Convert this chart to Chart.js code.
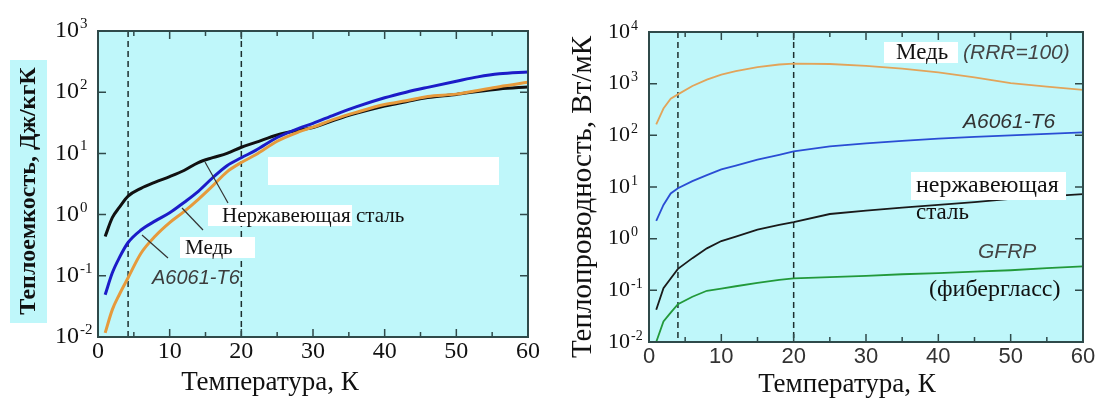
<!DOCTYPE html>
<html>
<head>
<meta charset="utf-8">
<script src="https://cdn.jsdelivr.net/npm/chart.js@4.4.1/dist/chart.umd.min.js"></script>
<style>
  html, body { margin: 0; padding: 0; background: #fff; }
  #wrap { position: relative; width: 1096px; height: 399px; }
  .panel { position: absolute; top: 0; width: 548px; height: 399px; }
</style>
</head>
<body>
<div id="wrap">
  <div class="panel" style="left:0"><canvas id="cpChart" width="548" height="399"></canvas></div>
  <div class="panel" style="left:548px"><canvas id="kChart" width="548" height="399"></canvas></div>
</div>
<script>
// heat capacity, J/kgK (left)
const tempCp = [1, 2, 3, 4.2, 6, 8, 10, 12, 14, 16, 18, 20, 22, 25, 28, 30, 33, 36, 40, 43, 46, 50, 53, 56, 60];
const cpSteel = [0.44, 0.89, 1.32, 2.0, 2.69, 3.39, 4.17, 5.25, 7.08, 8.51, 10.0, 12.6, 15.1, 20.0, 24.0, 26.5, 35.0, 45.0, 59.5, 70.0, 82.0, 92.0, 103, 113, 122];
const cpAl = [0.049, 0.112, 0.2, 0.35, 0.56, 0.79, 1.07, 1.58, 2.4, 4.0, 6.3, 8.5, 11.2, 18.2, 25.7, 31.0, 42.7, 57.5, 81, 100, 120, 151, 178, 200, 214];
const cpCu = [0.0117, 0.028, 0.05, 0.093, 0.234, 0.447, 0.74, 1.12, 1.78, 2.95, 5.0, 7.1, 9.5, 15.8, 22.4, 26.9, 36.3, 46.8, 63, 72.4, 85, 93, 107, 123, 145];

// thermal conductivity, W/mK (right)
const tempK = [1, 2, 3, 4, 6, 8, 10, 12, 15, 18, 20, 25, 30, 35, 40, 45, 50, 55, 60];
const kCu = [163, 330, 510, 620, 900, 1200, 1500, 1750, 2100, 2350, 2450, 2400, 2200, 1950, 1650, 1330, 1020, 880, 760];
const kAl = [2.2, 4.5, 7.5, 9.5, 13, 17, 22, 26, 34, 42, 49, 61, 70, 78, 86, 93, 100, 107, 114];
const kSteel = [0.042, 0.11, 0.17, 0.26, 0.42, 0.65, 0.9, 1.1, 1.5, 1.85, 2.1, 3.0, 3.5, 4.0, 4.5, 5.1, 5.9, 6.6, 7.3];
const kGfrp = [0.01, 0.025, 0.037, 0.054, 0.075, 0.098, 0.108, 0.12, 0.14, 0.16, 0.17, 0.18, 0.19, 0.205, 0.215, 0.23, 0.245, 0.27, 0.29];

// tick labels
const xTickVals = [0, 10, 20, 30, 40, 50, 60];
const cpDecades = [-2, -1, 0, 1, 2, 3];
const kDecades = [-2, -1, 0, 1, 2, 3, 4];

const SERIF = '"Liberation Serif", "Times New Roman", serif';
const SANS = '"Liberation Sans", Arial, sans-serif';
const CYAN = '#bff7fa';
const AXIS = '#2f4a4a';

const pts = (xs, ys) => xs.map((x, i) => ({x: x, y: ys[i]}));

function makeFrame(cfg) {
    return {
        id: 'frame',
        beforeDatasetsDraw(chart) {
            const {ctx, chartArea: a, scales: {x}} = chart;
            ctx.save();
            ctx.fillStyle = CYAN;
            ctx.fillRect(a.left, a.top, a.width, a.height);
            ctx.strokeStyle = '#1c2e2e';
            ctx.lineWidth = 1.5;
            ctx.setLineDash([6, 4]);
            cfg.dashed.forEach(t => {
                const px = x.getPixelForValue(t);
                ctx.beginPath();
                ctx.moveTo(px, a.top);
                ctx.lineTo(px, a.bottom);
                ctx.stroke();
            });
            ctx.restore();
        },
        afterDraw(chart) {
            const {ctx, chartArea: a, scales: {x, y}} = chart;
            ctx.save();

            // white boxes and leader lines of the notes
            ctx.fillStyle = '#fff';
            cfg.blanks.forEach(r => ctx.fillRect(r[0], r[1], r[2], r[3]));
            ctx.strokeStyle = '#333';
            ctx.lineWidth = 1.2;
            cfg.lines.forEach(l => {
                ctx.beginPath();
                ctx.moveTo(l[0], l[1]);
                ctx.lineTo(l[2], l[3]);
                ctx.stroke();
            });

            // frame + inward ticks
            ctx.strokeStyle = AXIS;
            ctx.lineWidth = 2;
            ctx.strokeRect(a.left, a.top, a.width, a.height);
            ctx.lineWidth = 1.5;
            ctx.beginPath();
            xTickVals.forEach((t, i) => {
                let px = x.getPixelForValue(t);
                ctx.moveTo(px, a.bottom); ctx.lineTo(px, a.bottom - 8);
                ctx.moveTo(px, a.top); ctx.lineTo(px, a.top + 8);
                if (i < xTickVals.length - 1) {
                    px = x.getPixelForValue(t + 5);
                    ctx.moveTo(px, a.bottom); ctx.lineTo(px, a.bottom - 5);
                    ctx.moveTo(px, a.top); ctx.lineTo(px, a.top + 5);
                }
            });
            cfg.decades.forEach(e => {
                const py = y.getPixelForValue(Math.pow(10, e));
                ctx.moveTo(a.left, py); ctx.lineTo(a.left + 8, py);
                ctx.moveTo(a.right, py); ctx.lineTo(a.right - 8, py);
            });
            ctx.stroke();

            // tick labels
            ctx.fillStyle = cfg.xColor || '#111';
            ctx.textBaseline = 'middle';
            ctx.textAlign = 'center';
            ctx.font = cfg.xFont;
            xTickVals.forEach(t => ctx.fillText(String(t), x.getPixelForValue(t), cfg.xLabelY));
            ctx.fillStyle = '#111';
            ctx.textAlign = 'left';
            cfg.decades.forEach(e => {
                const py = y.getPixelForValue(Math.pow(10, e));
                const x0 = a.left - cfg.yLabelInset;
                ctx.font = cfg.yFont;
                ctx.fillText('10', x0, py);
                const w = ctx.measureText('10').width;
                ctx.font = cfg.expFont;
                ctx.fillText(String(e), x0 + w + 1, py - cfg.expRise);
            });

            // axis titles
            ctx.textAlign = 'center';
            ctx.font = cfg.xTitle.font;
            ctx.fillText(cfg.xTitle.text, cfg.xTitle.x, cfg.xTitle.y);
            const yt = cfg.yTitle;
            if (yt.bg) {
                ctx.fillStyle = CYAN;
                ctx.fillRect(yt.bg[0], yt.bg[1], yt.bg[2], yt.bg[3]);
            }
            ctx.fillStyle = '#111';
            ctx.translate(yt.x, yt.y);
            ctx.rotate(-Math.PI / 2);
            ctx.font = yt.font;
            ctx.fillText(yt.text, 0, 0);
            ctx.setTransform(1, 0, 0, 1, 0, 0);

            // note texts
            ctx.textAlign = 'left';
            cfg.notes.forEach(n => {
                ctx.font = n.f;
                ctx.fillStyle = n.c || '#111';
                ctx.fillText(n.t, n.x, n.y);
            });
            ctx.restore();
        }
    };
}

function baseOptions(pad, yMax) {
    return {
        responsive: false,
        animation: false,
        layout: {padding: pad},
        elements: {point: {radius: 0}},
        plugins: {legend: {display: false}, tooltip: {enabled: false}},
        scales: {
            x: {type: 'linear', min: 0, max: 60, display: false},
            y: {type: 'logarithmic', min: 0.01, max: yMax, display: false}
        }
    };
}

new Chart(document.getElementById('cpChart'), {
    type: 'line',
    data: {
        datasets: [
            {label: 'Медь', data: pts(tempCp, cpCu), borderColor: '#e69a3c', borderWidth: 3, cubicInterpolationMode: 'monotone'},
            {label: 'A6061-T6', data: pts(tempCp, cpAl), borderColor: '#1c1cc8', borderWidth: 3, cubicInterpolationMode: 'monotone'},
            {label: 'Нержавеющая сталь', data: pts(tempCp, cpSteel), borderColor: '#111', borderWidth: 3, cubicInterpolationMode: 'monotone'}
        ]
    },
    options: baseOptions({left: 98, right: 20, top: 31, bottom: 62}, 1000),
    plugins: [makeFrame({
        dashed: [4.2, 20],
        decades: cpDecades,
        xFont: '24px ' + SERIF,
        xLabelY: 352,
        yFont: '24px ' + SERIF,
        expFont: '15px ' + SERIF,
        yLabelInset: 43,
        expRise: 7,
        xTitle: {text: 'Температура, К', font: '27px ' + SERIF, x: 270, y: 383},
        yTitle: {text: 'Теплоемкость, Дж/кгК', font: 'bold 24px ' + SERIF, x: 29, y: 191, bg: [10, 60, 37, 263]},
        blanks: [[268, 157, 231, 28], [208, 205, 144, 21], [180, 237, 75, 21]],
        lines: [[205, 162, 228, 203], [182, 208, 203, 230], [142, 235, 168, 258]],
        notes: [
            {t: 'Нержавеющая сталь', f: '21px ' + SERIF, x: 222, y: 216},
            {t: 'Медь', f: '21px ' + SERIF, x: 185, y: 248},
            {t: 'A6061-T6', f: 'italic 20px ' + SANS, x: 152, y: 278, c: '#3c3c3c'}
        ]
    })]
});

new Chart(document.getElementById('kChart'), {
    type: 'line',
    data: {
        datasets: [
            {label: 'Медь (RRR=100)', data: pts(tempK, kCu), borderColor: '#e2a45a', borderWidth: 1.8},
            {label: 'A6061-T6', data: pts(tempK, kAl), borderColor: '#2a4dd4', borderWidth: 1.8},
            {label: 'нержавеющая сталь', data: pts(tempK, kSteel), borderColor: '#1a1a1a', borderWidth: 1.8},
            {label: 'GFRP', data: pts(tempK, kGfrp), borderColor: '#22993a', borderWidth: 1.8}
        ]
    },
    options: baseOptions({left: 101, right: 13, top: 32, bottom: 57}, 10000),
    plugins: [makeFrame({
        dashed: [4, 20],
        decades: kDecades,
        xFont: '22px ' + SANS,
        xColor: '#333',
        xLabelY: 357,
        yFont: '22px ' + SERIF,
        expFont: '14px ' + SERIF,
        yLabelInset: 41,
        expRise: 6,
        xTitle: {text: 'Температура, К', font: '27px ' + SERIF, x: 299, y: 385},
        yTitle: {text: 'Теплопроводность, Вт/мК', font: '29px ' + SERIF, x: 35, y: 197},
        blanks: [[336, 42, 74, 21], [363, 172, 155, 28]],
        lines: [],
        notes: [
            {t: 'Медь', f: '23px ' + SERIF, x: 348, y: 53},
            {t: '(RRR=100)', f: 'italic 21px ' + SANS, x: 415, y: 53, c: '#444'},
            {t: 'A6061-T6', f: 'italic 21px ' + SANS, x: 415, y: 122, c: '#333'},
            {t: 'нержавеющая', f: '24px ' + SERIF, x: 368, y: 186},
            {t: 'сталь', f: '23px ' + SERIF, x: 368, y: 213},
            {t: 'GFRP', f: 'italic 21px ' + SANS, x: 430, y: 252, c: '#444'},
            {t: '(фибергласс)', f: '24px ' + SERIF, x: 381, y: 290}
        ]
    })]
});
</script>
</body>
</html>
